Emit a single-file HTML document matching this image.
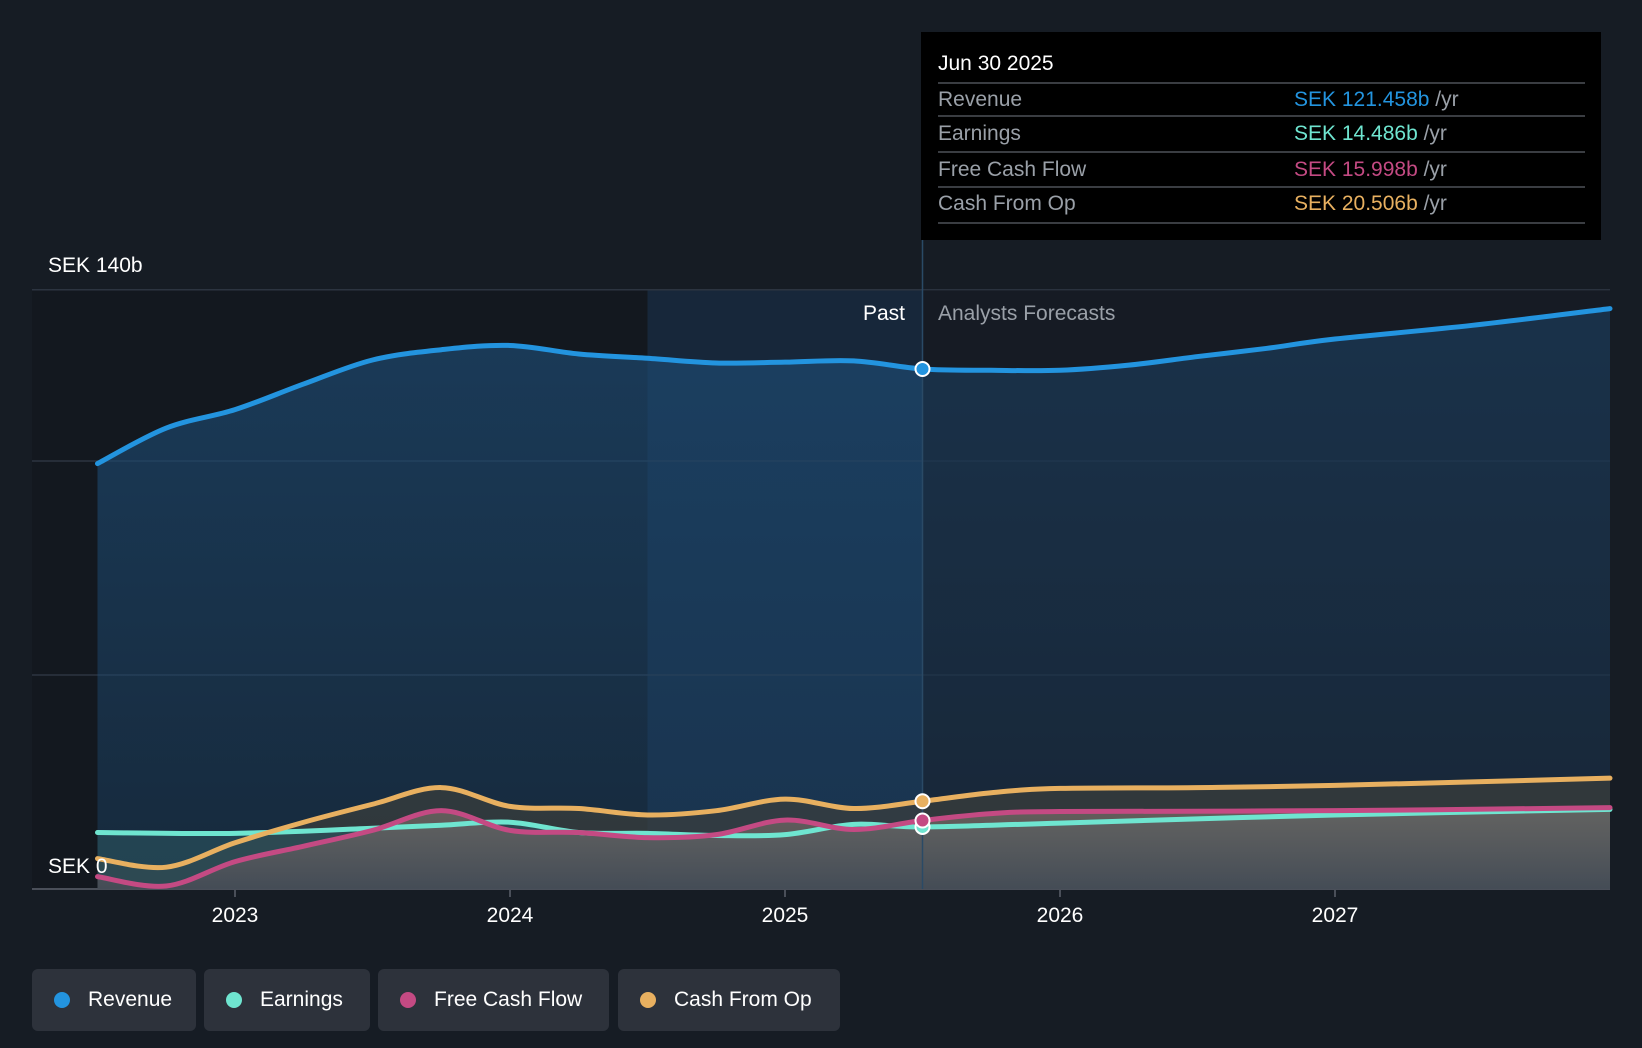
<!DOCTYPE html>
<html><head><meta charset="utf-8"><style>
html,body{margin:0;padding:0;background:#161c24;}
body{width:1642px;height:1048px;overflow:hidden;position:relative;font-family:"Liberation Sans",sans-serif;}
svg{position:absolute;left:0;top:0;}
.leg{position:absolute;top:969px;height:62px;background:#2d323b;border-radius:6px;color:#fff;font-size:21px;line-height:62px;box-sizing:border-box;padding-left:56px;}
.leg span{position:absolute;left:22px;top:23px;width:16px;height:16px;border-radius:50%;}
</style></head><body>
<svg id="chart" width="1642" height="1048"></svg>
<div class="leg" style="left:32px;width:164px"><span style="background:#2394df"></span>Revenue</div>
<div class="leg" style="left:204px;width:166px"><span style="background:#6fe5d0"></span>Earnings</div>
<div class="leg" style="left:378px;width:231px"><span style="background:#c44a83"></span>Free Cash Flow</div>
<div class="leg" style="left:618px;width:222px"><span style="background:#e8b060"></span>Cash From Op</div>
<script>
const xTickLabels=["2023","2024","2025","2026","2027"];
const xTickYears=[2023,2024,2025,2026,2027];
const revT=[2022.5,2022.75,2023,2023.25,2023.5,2023.75,2024,2024.25,2024.5,2024.75,2025,2025.25,2025.5,2025.75,2026,2026.25,2026.5,2026.75,2027,2027.5,2028];
const revV=[99.4,107.7,112,118,123.6,126,127,125,124,122.9,123.1,123.4,121.5,121.2,121.2,122.4,124.4,126.3,128.5,131.7,135.6];
const earnT=[2022.5,2023,2023.5,2023.75,2024,2024.25,2024.5,2024.75,2025,2025.25,2025.5,2026,2027,2028];
const earnV=[13.2,13,14.2,14.9,15.6,13.2,13,12.5,12.7,15.1,14.5,15.4,17.3,18.6];
const fcfT=[2022.5,2022.75,2023,2023.25,2023.5,2023.75,2024,2024.25,2024.5,2024.75,2025,2025.25,2025.5,2025.75,2026,2027,2028];
const fcfV=[2.9,0.7,6.4,10,13.7,18.3,13.7,13.2,12,12.7,16.1,13.9,16,17.6,18.1,18.3,19];
const cfoT=[2022.5,2022.75,2023,2023.25,2023.5,2023.75,2024,2024.25,2024.5,2024.75,2025,2025.25,2025.5,2025.75,2026,2026.5,2027,2028];
const cfoV=[7.1,5.1,10.8,15.6,19.8,23.7,19.3,18.8,17.3,18.3,21,18.8,20.5,22.5,23.5,23.7,24.2,25.9];
const gridVals=[0,50,100,140];
const NOW=2025.5;

const X=t=>235+(t-2023)*275;
const Y=v=>889-v*4.28;
const NS="http://www.w3.org/2000/svg";
const svg=document.getElementById('chart');
function el(tag,attrs,parent){const e=document.createElementNS(NS,tag);for(const k in attrs)e.setAttribute(k,attrs[k]);(parent||svg).appendChild(e);return e;}
function pathD(T,V){const p=T.map((t,i)=>[X(t),Y(V[i])]);let d=`M${p[0][0]},${p[0][1]}`;
 for(let i=0;i<p.length-1;i++){const p0=p[Math.max(0,i-1)],p1=p[i],p2=p[i+1],p3=p[Math.min(p.length-1,i+2)];
 const c1=[p1[0]+(p2[0]-p0[0])/6,p1[1]+(p2[1]-p0[1])/6],c2=[p2[0]-(p3[0]-p1[0])/6,p2[1]-(p3[1]-p1[1])/6];
 d+=` C${c1[0]},${c1[1]} ${c2[0]},${c2[1]} ${p2[0]},${p2[1]}`;}return d;}
function interp(T,V,t){for(let i=0;i<T.length-1;i++)if(t>=T[i]&&t<=T[i+1])return V[i]+(V[i+1]-V[i])*(t-T[i])/(T[i+1]-T[i]);return V[V.length-1];}

const defs=el('defs',{});
const g1=el('linearGradient',{id:'revg',x1:0,y1:0,x2:0,y2:1},defs);
el('stop',{offset:0,'stop-color':'#1d4a72','stop-opacity':0.7},g1);el('stop',{offset:1,'stop-color':'#1d4a72','stop-opacity':0.35},g1);
const g2=el('linearGradient',{id:'lowg',x1:0,y1:0,x2:0,y2:1},defs);
el('stop',{offset:0,'stop-color':'#7a6e68','stop-opacity':0.7},g2);el('stop',{offset:1,'stop-color':'#4a4d57','stop-opacity':0.8},g2);
const cp=el('clipPath',{id:'fc'},defs);el('rect',{x:X(NOW),y:0,width:1642,height:1048},cp);

let r=el('rect',{x:32,y:Y(140),width:X(2024.5)-32,height:Y(0)-Y(140),fill:'#13181f'});

r=el('rect',{x:X(2024.5),y:Y(140),width:X(NOW)-X(2024.5),height:Y(0)-Y(140),fill:'#17273a'});


gridVals.forEach(v=>{const l=el('line',{x1:32,x2:1610,y1:Y(v),y2:Y(v),stroke:v===0?'#4a4f59':'#2c3440','stroke-width':v===0?2:1.5});
});

const base=` L${X(revT[revT.length-1])},${Y(0)} L${X(revT[0])},${Y(0)} Z`;
let a=el('path',{d:pathD(revT,revV)+base,fill:'url(#revg)'});

a=el('rect',{x:X(NOW),y:Y(140),width:X(2028)-X(NOW),height:Y(0)-Y(140),fill:'#161c24','fill-opacity':0.3});

a=el('path',{d:pathD(cfoT,cfoV)+` L${X(cfoT[cfoT.length-1])},${Y(0)} L${X(cfoT[0])},${Y(0)} Z`,fill:'#3c3f3c','fill-opacity':0.7});

a=el('path',{d:pathD(earnT,earnV)+` L${X(earnT[earnT.length-1])},${Y(0)} L${X(earnT[0])},${Y(0)} Z`,fill:'#2b5560','fill-opacity':0.6});

a=el('path',{d:pathD(fcfT,fcfV)+` L${X(fcfT[fcfT.length-1])},${Y(0)} L${X(fcfT[0])},${Y(0)} Z`,fill:'url(#lowg)'});


let nl=el('line',{x1:X(NOW),x2:X(NOW),y1:240,y2:Y(0),stroke:'#2a4a66','stroke-width':1.5});


const series=[['earnings',earnT,earnV,'#6fe5d0'],['free-cash-flow',fcfT,fcfV,'#c44a83'],['cash-from-op',cfoT,cfoV,'#e8b060'],['revenue',revT,revV,'#2394df']];
series.forEach(s=>{const p=el('path',{d:pathD(s[1],s[2]),fill:'none',stroke:s[3],'stroke-width':5,'stroke-linecap':'round'});
});
series.forEach(s=>{const c=el('circle',{cx:X(NOW),cy:Y(interp(s[1],s[2],NOW)),r:7,fill:s[3],stroke:'#fff','stroke-width':2});
});

xTickYears.forEach((t,i)=>{const l=el('line',{x1:X(t),x2:X(t),y1:Y(0),y2:Y(0)+8,stroke:'#4a4f59','stroke-width':2});

const tx=el('text',{x:X(t),y:922,fill:'#fff','font-size':21,'text-anchor':'middle'});tx.textContent=xTickLabels[i];
});

function txt(x,y,s,fill,size,name,anchor){const t=el('text',{x:x,y:y,fill:fill,'font-size':size,'text-anchor':anchor||'start'});t.textContent=s;
return t;}
txt(48,272,'SEK 140b','#fff',21,'y-max-label');
txt(48,873,'SEK 0','#fff',21,'y-zero-label');
txt(905,320,'Past','#fff',21,'past-label','end');
txt(938,320,'Analysts Forecasts','#9aa0a8',21,'forecast-label');

const tg=el('g',{});
el('rect',{x:921,y:32,width:680,height:208,fill:'#000'},tg);
const tt=el('text',{x:938,y:70,fill:'#fff','font-size':21},tg);tt.textContent='Jun 30 2025';
[83,116,152,187,223].forEach(y=>el('line',{x1:938,x2:1585,y1:y,y2:y,stroke:'#3a3d42','stroke-width':2},tg));
const rows=[['Revenue','SEK 121.458b','#2394df'],['Earnings','SEK 14.486b','#6fe5d0'],['Free Cash Flow','SEK 15.998b','#c44a83'],['Cash From Op','SEK 20.506b','#e8b060']];
[106,140,176,210].forEach((y,i)=>{const a=el('text',{x:938,y:y,fill:'#9aa0a8','font-size':21},tg);a.textContent=rows[i][0];
const b=el('text',{x:1294,y:y,fill:rows[i][2],'font-size':21},tg);b.textContent=rows[i][1];
const c=el('tspan',{fill:'#9aa0a8'},b);c.textContent=' /yr';});
</script>
</body></html>
